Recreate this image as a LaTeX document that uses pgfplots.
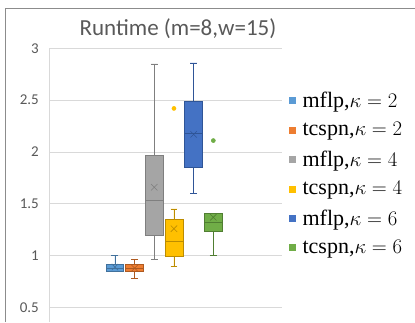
\documentclass[border=0pt]{standalone}
\usepackage{pgfplots}
\pgfplotsset{compat=1.18}
\usepgfplotslibrary{statistics}
\usepackage{fontspec}
\setmainfont{Carlito}
\newfontfamily\legfont{Liberation Serif}
\definecolor{gridc}{HTML}{D9D9D9}
\definecolor{txtc}{HTML}{595959}
\definecolor{frc}{HTML}{8C8C8C}
\definecolor{cA}{HTML}{5B9BD5}\definecolor{dA}{HTML}{41719C}
\definecolor{cB}{HTML}{ED7D31}\definecolor{dB}{HTML}{AE5A21}
\definecolor{cC}{HTML}{A5A5A5}\definecolor{dC}{HTML}{7F7F7F}
\definecolor{cD}{HTML}{FFC000}\definecolor{dD}{HTML}{BC8C00}
\definecolor{cE}{HTML}{4472C4}\definecolor{dE}{HTML}{2F5597}
\definecolor{cF}{HTML}{70AD47}\definecolor{dF}{HTML}{507E32}
\begin{document}
\begin{tikzpicture}[x=1pt,y=1pt]
\useasboundingbox (0,0) rectangle (415,322);
\draw[frc, line width=0.9pt] (5,0) -- (5,314) -- (415,314);
\node[font=\fontsize{23}{23}\selectfont, text=txtc] at (178,293) {Runtime (m=8,w=15)};
\begin{axis}[at={(49pt,0pt)}, anchor=south west, scale only axis,
  width=233pt, height=273.7pt,
  xmin=-2.35, xmax=9.49, ymin=0.36, ymax=3,
  ytick={0.5,1,1.5,2,2.5,3}, yticklabels={0.5,1,1.5,2,2.5,3},
  xtick=\empty,
  axis x line=none, axis y line*=left,
  y axis line style={draw=gridc, line width=0.8pt, -},
  ymajorgrids, grid style={draw=gridc, line width=0.8pt},
  major tick length=0pt,
  yticklabel style={font=\fontsize{15}{15}\selectfont, text=txtc, inner sep=0pt, anchor=east, xshift=-10pt},
  /pgf/number format/assume math mode=true,
  clip=false,
  boxplot/draw direction=y,
  boxplot/box extend=0.9,
  boxplot/whisker extend=0.35,
  boxplot/every average/.style={/tikz/mark=x, /tikz/mark size=4.5pt, /tikz/mark options={line width=0.6pt}},
  legend style={at={(1.03,0.845)}, anchor=north west, draw=none, fill=none,
    font=\legfont\fontsize{22}{22}\selectfont, row sep=11.5pt, inner sep=0pt,
    nodes={inner sep=1pt}},
  legend cell align=left,
]
\addplot[forget plot, draw=dA, fill=cA, line width=0.6pt, boxplot prepared={draw position=1,
  lower whisker=0.85, lower quartile=0.85, median=0.88, upper quartile=0.92, upper whisker=1.0, average=0.89}]
  coordinates {};
\addplot[forget plot, draw=dB, fill=cB, line width=0.6pt, boxplot prepared={draw position=2,
  lower whisker=0.78, lower quartile=0.85, median=0.88, upper quartile=0.92, upper whisker=0.96, average=0.88}]
  coordinates {};
\addplot[forget plot, draw=dC, fill=cC, line width=0.6pt, boxplot prepared={draw position=3,
  lower whisker=0.96, lower quartile=1.20, median=1.53, upper quartile=1.97, upper whisker=2.85, average=1.66}]
  coordinates {};
\addplot[forget plot, draw=dD, fill=cD, line width=0.6pt, mark=*, mark size=2pt, mark options={fill=cD, draw=cD}, boxplot prepared={draw position=4,
  lower whisker=0.90, lower quartile=0.99, median=1.135, upper quartile=1.35, upper whisker=1.45, average=1.26}]
  table[row sep=\\, y index=0] {2.42\\};
\addplot[forget plot, draw=dE, fill=cE, line width=0.6pt, boxplot prepared={draw position=5,
  lower whisker=1.60, lower quartile=1.85, median=2.18, upper quartile=2.49, upper whisker=2.86, average=2.17}]
  coordinates {};
\addplot[forget plot, draw=dF, fill=cF, line width=0.6pt, mark=*, mark size=2pt, mark options={fill=cF, draw=cF}, boxplot prepared={draw position=6,
  lower whisker=1.0, lower quartile=1.235, median=1.325, upper quartile=1.405, upper whisker=1.405, average=1.37}]
  table[row sep=\\, y index=0] {2.11\\};
\pgfplotsset{legend image code/.code={\path (0pt,0pt) (12pt,0pt); \fill[#1] (0pt,-3pt) rectangle (6pt,3pt);}}
\addlegendimage{cA}\addlegendentry{mflp,$\kappa=2$}
\addlegendimage{cB}\addlegendentry{tcspn,$\kappa=2$}
\addlegendimage{cC}\addlegendentry{mflp,$\kappa=4$}
\addlegendimage{cD}\addlegendentry{tcspn,$\kappa=4$}
\addlegendimage{cE}\addlegendentry{mflp,$\kappa=6$}
\addlegendimage{cF}\addlegendentry{tcspn,$\kappa=6$}
\end{axis}
\end{tikzpicture}
\end{document}
